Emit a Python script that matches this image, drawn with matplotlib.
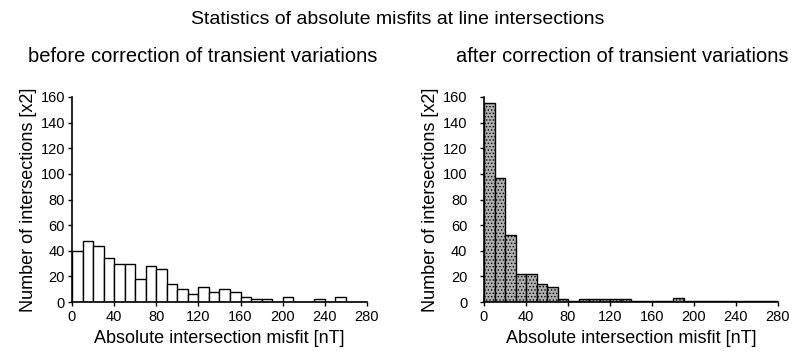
import numpy as np
import matplotlib
matplotlib.use("Agg")
import matplotlib.pyplot as plt

plt.rcParams['font.family'] = ['Liberation Sans', 'DejaVu Sans']
plt.rcParams['hatch.linewidth'] = 0.6

# Histogram bins: 10 nT wide, 0-280 nT
bin_edges = np.arange(0, 290, 10)
x_ticks = [0, 40, 80, 120, 160, 200, 240, 280]
y_ticks = [0, 20, 40, 60, 80, 100, 120, 140, 160]

# Counts per bin [x2]
counts_before = [40, 48, 44, 34, 30, 30, 18, 28, 26, 14,
                 10, 6, 12, 8, 10, 8, 4, 2, 2, 0,
                 4, 0, 0, 2, 0, 4, 0, 0]
counts_after = [155, 97, 52, 22, 22, 14, 12, 2, 1, 2,
                2, 2, 2, 2, 1, 1, 1, 1, 3, 1,
                1, 1, 1, 1, 1, 1, 1, 1]

main_title = "Statistics of absolute misfits at line intersections"
title_before = "before correction of transient variations"
title_after = "after correction of transient variations"
xlabel = "Absolute intersection misfit [nT]"
ylabel = "Number of intersections [x2]"

W, H = 795, 351
fig = plt.figure(figsize=(W / 100, H / 100), dpi=100)


def px_axes(x0, x1, ytop, ybot):
    return fig.add_axes([x0 / W, (H - ybot) / H, (x1 - x0) / W, (ybot - ytop) / H])


ax1 = px_axes(72, 367, 97, 302)
ax2 = px_axes(484, 778, 97, 302)

left = bin_edges[:-1]
width = np.diff(bin_edges)

ax1.bar(left, counts_before, width=width, align='edge',
        facecolor='white', edgecolor='black', linewidth=1.0)
ax2.bar(left, counts_after, width=width, align='edge',
        facecolor='#b0b0b0', edgecolor='black', linewidth=1.0, hatch='.....')

for ax, ypad in ((ax1, 2), (ax2, 9)):
    ax.set_xlim(0, 280)
    ax.set_ylim(0, 160)
    ax.set_xticks(x_ticks)
    ax.set_yticks(y_ticks)
    for s in ('top', 'right'):
        ax.spines[s].set_visible(False)
    for s in ('left', 'bottom'):
        ax.spines[s].set_linewidth(1.2)
    ax.tick_params(direction='out', length=3, width=1, labelsize=10.5)
    ax.tick_params(axis='x', pad=3)
    ax.tick_params(axis='y', pad=ypad)
    ax.set_xlabel(xlabel, fontsize=13, labelpad=4)
    ax.set_ylabel(ylabel, fontsize=13, labelpad=2.5)

fig.text(398 / W, 1 - 20 / H, main_title, ha='center', va='center', fontsize=14)
fig.text(28 / W, 1 - 57 / H, title_before, ha='left', va='center', fontsize=14.5)
fig.text(788 / W, 1 - 57 / H, title_after, ha='right', va='center', fontsize=14.5)

fig.savefig("out.png", dpi=100)
